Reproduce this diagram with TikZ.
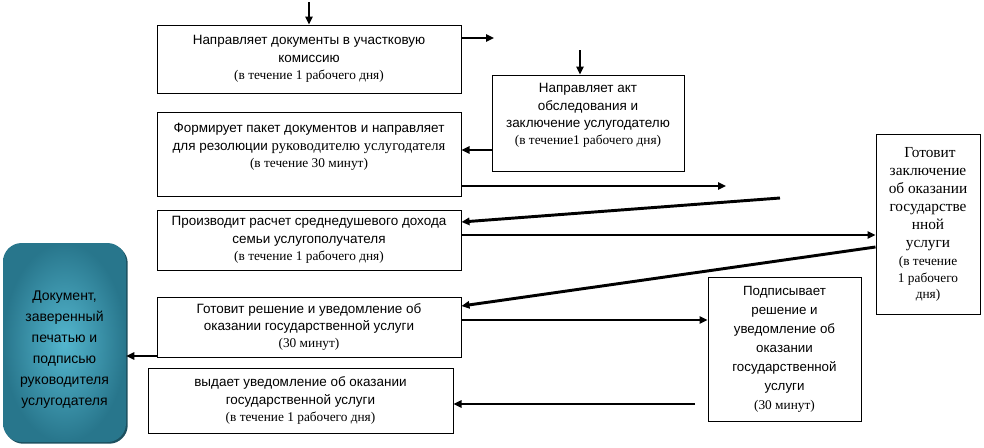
\documentclass[tikz,border=0pt]{standalone}
\usepackage{fontspec}
\setmainfont{Liberation Serif}
\newfontfamily\sansf{Liberation Sans}
\usetikzlibrary{arrows.meta,shadows}

\definecolor{docedge}{RGB}{40,118,140}
\definecolor{doccore}{RGB}{84,182,206}
\definecolor{docshadow}{RGB}{28,80,95}

\newcommand{\srm}{\rmfamily\fontsize{10}{13}\selectfont}

\tikzset{
  box/.style={draw, line width=0.75pt, align=center, inner sep=0pt,
    font=\sansf\fontsize{10.1}{13}\selectfont},
  docbox/.style={rounded corners=14pt, align=center, inner sep=0pt,
    inner color=doccore, outer color=docedge,
    drop shadow={shadow xshift=1.3pt, shadow yshift=-1.3pt, fill=docshadow, opacity=1},
    font=\sansf\fontsize{10.5}{15.75}\selectfont},
  link/.style={line width=2.2pt, -{Triangle[length=6pt,width=5.5pt]}},
}

\begin{document}
\begin{tikzpicture}[x=0.75pt,y=-0.75pt]
  \useasboundingbox (0,0) rectangle (984,447);
  % Left column
  \node[box, minimum width=228pt, minimum height=51pt] (send) at (309,59)
    {Направляет документы в участковую\\ комиссию\\ {\srm (в течение 1 рабочего дня)}};
  \node[box, minimum width=228pt, minimum height=63pt] (pack) at (309,154)
    {Формирует пакет документов и направляет\\
     для резолюции {\rmfamily\fontsize{11}{13}\selectfont руководителю услугодателя}\\
     {\srm (в течение 30 минут)}\\ \mbox{}};
  \node[box, minimum width=228pt, minimum height=45pt] (calc) at (309,240)
    {Производит расчет среднедушевого дохода\\ семьи услугополучателя\\
     {\srm (в течение 1 рабочего дня)}};
  \node[box, minimum width=228pt, minimum height=45pt] (decide) at (309,327)
    {Готовит решение и уведомление об\\ оказании государственной услуги\\
     {\srm (30 минут)}};
  \node[box, minimum width=228.75pt, minimum height=48.75pt] (issue) at (300.5,400.5)
    {выдает уведомление об оказании\\ государственной услуги\\
     {\srm (в течение 1 рабочего дня)}};
  % Right column
  \node[box, minimum width=144pt, minimum height=72pt] (act) at (588,123)
    {Направляет акт\\ обследования и\\ заключение услугодателю\\
     {\srm (в течение1 рабочего дня)}\\ \mbox{}};
  \node[box, minimum width=78pt, minimum height=135pt,
    font=\rmfamily\fontsize{11.5}{13.6}\selectfont] (concl) at (928,224)
    {\ Готовит\\ заключение\\ об оказании\\ государстве\\ нной\\ услуги\\
     {\srm (в течение}\\[-1.5pt] {\srm 1 рабочего}\\[-1.5pt] {\srm дня)}};
  \node[box, minimum width=114.75pt, minimum height=108pt,
    font=\sansf\fontsize{10}{14.25}\selectfont] (sign) at (784.5,349)
    {Подписывает\\ решение и\\ уведомление об\\ оказании\\ государственной\\ услуги\\
     {\srm (30 минут)}};
  % Result
  \node[docbox, minimum width=92.25pt, minimum height=149.25pt] (result) at (64.5,342.5)
    {\mbox{}\\[1.5pt] Документ,\\ заверенный\\ печатью и\\ подписью\\ руководителя\\ услугодателя};
  % Free ends
  \coordinate (in1) at (309,2);
  \coordinate (out1) at (494,38);
  \coordinate (in2) at (580,50);
  \coordinate (out2) at (726,186);
  \coordinate (in3) at (780,198);
  \coordinate (in4) at (695,404);
  % Arrows
  \draw[link] (in1) -- (send.north);
  \draw[link] (send.east |- out1) -- (out1);
  \draw[link] (in2) -- (in2 |- act.north);
  \draw[link] (act.west |- 0,150) -- (pack.east |- 0,150);
  \draw[link] (pack.east |- out2) -- (out2);
  \draw[link] (in3) -- (calc.east |- 0,222);
  \draw[link] (calc.east |- 0,235) -- (concl.west |- 0,235);
  \draw[link] (concl.west |- 0,247) -- (decide.east |- 0,306);
  \draw[link] (decide.east |- 0,320) -- (sign.west |- 0,320);
  \draw[link] (in4) -- (issue.east |- in4);
  \draw[link] (decide.west |- 0,356) -- (result.east |- 0,356);
\end{tikzpicture}
\end{document}
